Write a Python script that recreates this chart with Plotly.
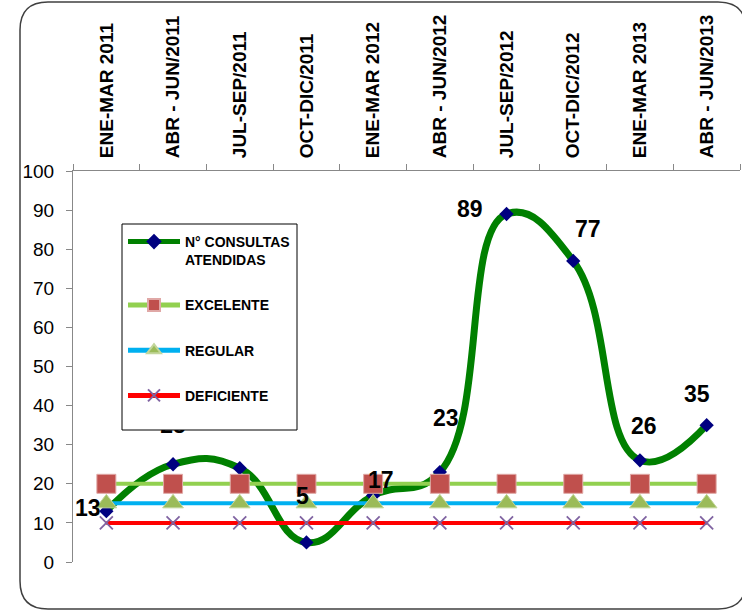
import plotly.graph_objects as go

categories = ["ENE-MAR 2011", "ABR - JUN/2011", "JUL-SEP/2011", "OCT-DIC/2011",
              "ENE-MAR 2012", "ABR - JUN/2012", "JUL-SEP/2012", "OCT-DIC/2012",
              "ENE-MAR 2013", "ABR - JUN/2013"]
consultas = [13, 25, 24, 5, 17, 23, 89, 77, 26, 35]
excelente = [20] * 10
regular = [15] * 10
deficiente = [10] * 10
y_ticks = [0, 10, 20, 30, 40, 50, 60, 70, 80, 90, 100]

# which data labels are shown (Excel hides the 24 label) and their pixel offsets
label_shown = [True, False, False, True, True, True, True, True, True, True]
label_shift = [(-18, 3), (0, 0), (0, 0), (-4, 46), (8, 16), (6, 54), (-37, 5), (15, 32), (4, 34), (-10, 31)]

W, H = 742, 611
L, R, T, B = 73, 2, 171, 49
PW, PH = W - L - R, H - T - B

FONT = "Arial, Liberation Sans, sans-serif"


def px(x):
    return (x - L) / PW


def py(y):
    return (H - B - y) / PH


fig = go.Figure()
fig.add_trace(go.Scatter(
    x=categories, y=consultas, name="N° CONSULTAS<br>ATENDIDAS", legendgroup="a",
    mode="lines+markers", line=dict(color="#008000", width=7, shape="spline", smoothing=1.3),
    marker=dict(symbol="diamond", size=11, color="#000080"), cliponaxis=False))
fig.add_trace(go.Scatter(
    x=categories, y=excelente, name="EXCELENTE", legendgroup="b",
    mode="lines+markers", line=dict(color="#92D050", width=4),
    marker=dict(symbol="square", size=19, color="#C0504D", line=dict(width=1, color="#E0A8A6")),
    cliponaxis=False))
fig.add_trace(go.Scatter(
    x=categories, y=regular, name="REGULAR", legendgroup="c",
    mode="lines+markers", line=dict(color="#00B0F0", width=4),
    marker=dict(symbol="triangle-up", size=18, color="#9BBB59", line=dict(width=1, color="#C3D69B")),
    cliponaxis=False))
fig.add_trace(go.Scatter(
    x=categories, y=deficiente, name="DEFICIENTE", legendgroup="d",
    mode="lines+markers", line=dict(color="#FF0000", width=4),
    marker=dict(symbol="x-thin", size=13, color="#8064A2", line=dict(width=1.8, color="#8064A2")),
    cliponaxis=False))

# the "25" label sits partly under the legend, so it is drawn as trace text (below the legend box)
fig.add_trace(go.Scatter(
    x=[categories[1]], y=[consultas[1]], text=[str(consultas[1])], mode="markers+text",
    textposition="top center", marker=dict(size=40, opacity=0), showlegend=False,
    hoverinfo="skip", textfont=dict(family=FONT, size=23, color="black", weight="bold"),
    cliponaxis=False))

for i, (c, v) in enumerate(zip(categories, consultas)):
    if label_shown[i] and i != 1:
        dx, dy = label_shift[i]
        fig.add_annotation(x=c, y=v, text=str(v), showarrow=False, xshift=dx, yshift=dy,
                           font=dict(family=FONT, size=23, color="black", weight="bold"))

# rounded frame around the chart
fx0, fx1, fy0, fy1, rad = 20, 746, 2, 609, 28
path = (f"M {px(fx0+rad)},{py(fy0)} L {px(fx1-rad)},{py(fy0)} "
        f"Q {px(fx1)},{py(fy0)} {px(fx1)},{py(fy0+rad)} "
        f"L {px(fx1)},{py(fy1-rad)} Q {px(fx1)},{py(fy1)} {px(fx1-rad)},{py(fy1)} "
        f"L {px(fx0+rad)},{py(fy1)} Q {px(fx0)},{py(fy1)} {px(fx0)},{py(fy1-rad)} "
        f"L {px(fx0)},{py(fy0+rad)} Q {px(fx0)},{py(fy0)} {px(fx0+rad)},{py(fy0)} Z")
fig.add_shape(type="path", path=path, xref="paper", yref="paper",
              line=dict(color="#404040", width=1.5), layer="below")

# legend box (white, above the plotted lines)
fig.add_shape(type="rect", xref="paper", yref="paper",
              x0=px(122), x1=px(297), y0=py(430), y1=py(224),
              fillcolor="white", line=dict(color="black", width=1), layer="above")

fig.update_layout(
    width=W, height=H,
    margin=dict(l=L, r=R, t=T, b=B, autoexpand=False),
    paper_bgcolor="white", plot_bgcolor="white",
    font=dict(family=FONT, color="black"),
    showlegend=True,
    legend=dict(x=px(123), y=py(226), xanchor="left", yanchor="top",
                bgcolor="rgba(0,0,0,0)", borderwidth=0,
                font=dict(family=FONT, size=14, color="black", weight="bold"),
                traceorder="grouped", tracegroupgap=24, itemwidth=52, valign="top",
                itemsizing="constant"),
    xaxis=dict(type="category", side="top", range=[-0.5, len(categories) - 0.5],
               showline=True, linecolor="#888888", linewidth=1, mirror=False,
               ticks="outside", tickson="boundaries", ticklen=6, tickcolor="#888888",
               tickangle=-90, ticklabelstandoff=8, automargin=False,
               tickfont=dict(family=FONT, size=19, color="black", weight="bold"),
               showgrid=False, zeroline=False, fixedrange=True),
    yaxis=dict(range=[0, 100], tickvals=y_ticks, showline=True, linecolor="#888888",
               linewidth=1, ticks="outside", ticklen=6, tickcolor="#888888",
               ticklabelstandoff=8, automargin=False,
               tickfont=dict(family=FONT, size=19, color="black"),
               showgrid=False, zeroline=False, fixedrange=True),
)

fig.write_html("out.html", config={"displayModeBar": False},
               post_script="document.body.style.margin='0px';")
